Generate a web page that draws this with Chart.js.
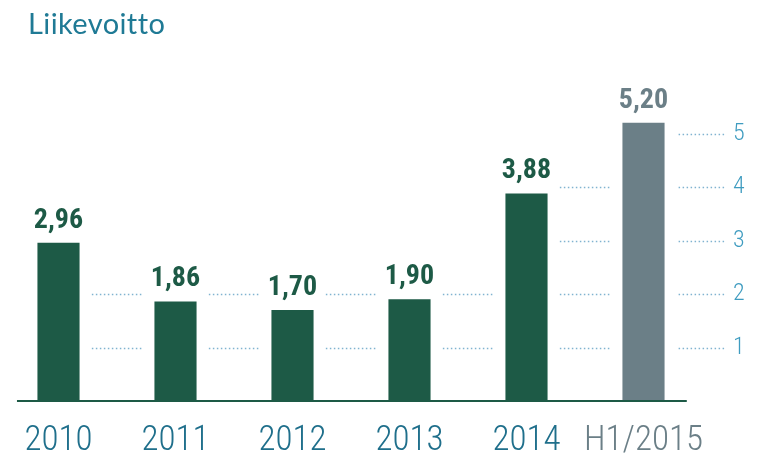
<!DOCTYPE html>
<html>
<head>
<meta charset="utf-8">
<script src="https://cdn.jsdelivr.net/npm/chart.js@4.4.1/dist/chart.umd.min.js"></script>
<style>
  body { margin: 0; background: #fff; }
  #wrap { position: relative; width: 758px; height: 460px; }
  #title {
    position: absolute; left: 28px; top: 5px;
    font-family: "Lato", sans-serif; font-weight: 400; font-size: 29px;
    color: #1f7a95; letter-spacing: 0.4px;
  }
</style>
</head>
<body>
<div id="wrap">
  <div id="title">Liikevoitto</div>
  <canvas id="chart"></canvas>
</div>
<script>
const categories = ["2010", "2011", "2012", "2013", "2014", "H1/2015"];
const values = [2.96, 1.86, 1.70, 1.90, 3.88, 5.20];
const valueLabels = ["2,96", "1,86", "1,70", "1,90", "3,88", "5,20"];
const yTicks = [1, 2, 3, 4, 5];
// highest dotted guide line in each gap right of a bar
const gridTop = [2, 2, 2, 2, 4, 5];

const green = "#1d5a46";
const grey = "#6b7f87";
const condensed = "'Roboto Condensed', 'Liberation Sans Narrow', sans-serif";
const barColors = values.map((v, i) => i === values.length - 1 ? grey : green);

const guidePlugin = {
    id: "guides",
    beforeDatasetsDraw(chart) {
        const ctx = chart.ctx;
        const x = chart.scales.x;
        const y = chart.scales.y;
        const step = x.getPixelForValue(1) - x.getPixelForValue(0);
        ctx.save();
        ctx.strokeStyle = "#80b3d0";
        ctx.lineWidth = 1.5;
        ctx.setLineDash([1.5, 2.5]);
        for (let i = 0; i < categories.length; i++) {
            const cx = x.getPixelForValue(i);
            let x1 = cx + step * 0.285;
            let x2 = cx + step * 0.715;
            if (i === categories.length - 1) {
                x1 = cx + step * 0.3;
                x2 = cx + step * 0.69;
            }
            yTicks.forEach(t => {
                if (t > gridTop[i]) return;
                const py = Math.round(y.getPixelForValue(t)) + 0.5;
                ctx.beginPath();
                ctx.moveTo(x1, py);
                ctx.lineTo(x2, py);
                ctx.stroke();
            });
        }
        ctx.restore();
    },
    afterDatasetsDraw(chart) {
        const ctx = chart.ctx;
        const x = chart.scales.x;
        const y = chart.scales.y;
        const step = x.getPixelForValue(1) - x.getPixelForValue(0);
        // baseline
        ctx.save();
        ctx.strokeStyle = green;
        ctx.lineWidth = 2;
        ctx.beginPath();
        const by = y.getPixelForValue(0);
        ctx.moveTo(x.getPixelForValue(0) - step * 0.355, by);
        ctx.lineTo(x.getPixelForValue(categories.length - 1) + step * 0.37, by);
        ctx.stroke();
        // value labels
        const meta = chart.getDatasetMeta(0);
        ctx.font = "bold 28px " + condensed;
        ctx.textAlign = "center";
        ctx.textBaseline = "alphabetic";
        meta.data.forEach((bar, i) => {
            ctx.fillStyle = barColors[i];
            ctx.fillText(valueLabels[i], bar.x, bar.y - 15);
        });
        ctx.restore();
    }
};

new Chart(document.getElementById("chart"), {
    type: "bar",
    data: {
        labels: categories,
        datasets: [{
            data: values,
            backgroundColor: barColors,
            borderWidth: 0,
            barPercentage: 0.36,
            categoryPercentage: 1
        }]
    },
    options: {
        responsive: true,
        maintainAspectRatio: false,
        animation: false,
        layout: { padding: { top: 80, left: 0, right: 0, bottom: 0 } },
        plugins: {
            legend: { display: false },
            tooltip: { enabled: false }
        },
        scales: {
            x: {
                grid: { display: false, drawTicks: false },
                border: { display: false },
                ticks: {
                    padding: 19,
                    maxRotation: 0,
                    autoSkip: false,
                    color: categories.map((c, i) => i === categories.length - 1 ? grey : "#1f6f8b"),
                    font: { family: condensed, size: 35, weight: 300 }
                },
                afterFit(scale) { scale.height = 59; }
            },
            y: {
                position: "right",
                min: 0,
                max: 6,
                grid: { display: false, drawTicks: false },
                border: { display: false },
                afterBuildTicks(scale) {
                    scale.ticks = yTicks.map(v => ({ value: v }));
                },
                ticks: {
                    padding: 31,
                    color: "#3f9cc0",
                    font: { family: condensed, size: 24, weight: 300 }
                },
                afterFit(scale) { scale.width = 56; }
            }
        }
    },
    plugins: [guidePlugin]
});
</script>
</body>
</html>
